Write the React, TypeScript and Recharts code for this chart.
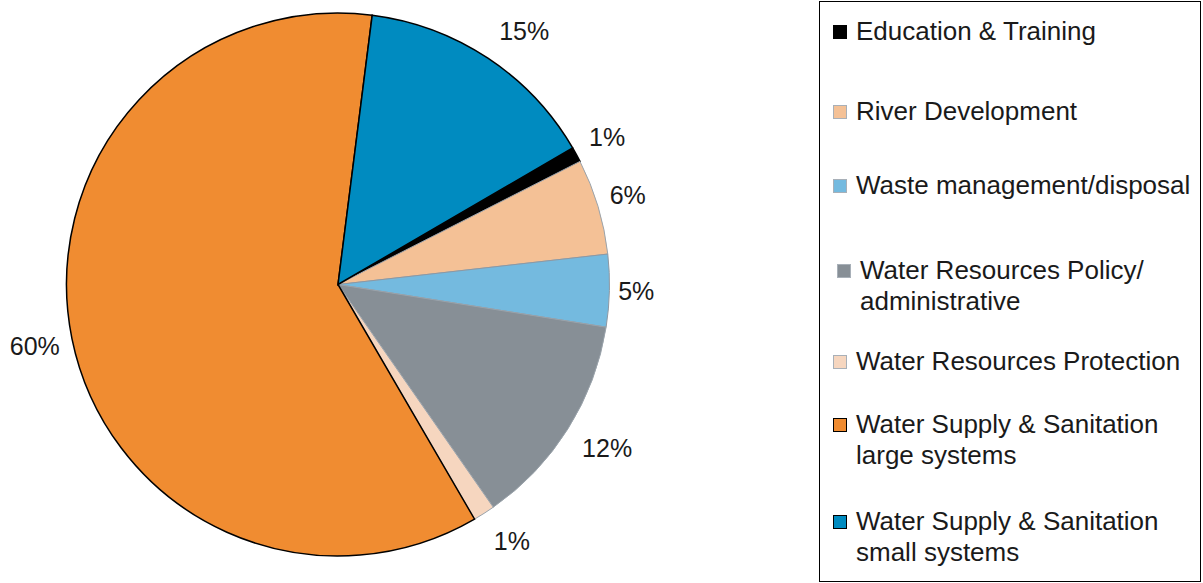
import React from 'react';
import { PieChart, Pie, Cell, Legend } from 'recharts';

const categories: string[] = [
  'Education & Training',
  'River Development',
  'Waste management/disposal',
  'Water Resources Policy/ administrative',
  'Water Resources Protection',
  'Water Supply & Sanitation large systems',
  'Water Supply & Sanitation small systems',
];
const shares: number[] = [0.9, 5.7, 4.3, 12.8, 1.3, 60.4, 14.6];
const shareLabels: string[] = ['1%', '6%', '5%', '12%', '1%', '60%', '15%'];
const legendLines: string[][] = [
  ['Education & Training'],
  ['River Development'],
  ['Waste management/disposal'],
  ['Water Resources Policy/', 'administrative'],
  ['Water Resources Protection'],
  ['Water Supply & Sanitation', 'large systems'],
  ['Water Supply & Sanitation', 'small systems'],
];

const fills = ['#000000', '#F4C196', '#74BADF', '#878F96', '#F6D6BF', '#F08C31', '#008BC0'];
const strokes = ['#000000', '#9AA3AB', '#8E98A2', '#9AA3AB', '#9AA3AB', '#000000', '#000000'];
const legendTops = [14, 94, 168, 253, 344, 407, 504];
const legendIndent = [0, 0, 0, 4, 0, 0, 0];

const data = categories.map((name, i) => ({ name, value: shares[i], label: shareLabels[i] }));

const FONT = '"Liberation Sans", Arial, sans-serif';
const RADIAN = Math.PI / 180;

const renderLabel = (props: any) => {
  const { cx, cy, midAngle, outerRadius, index } = props;
  const text = data[index].label;
  const c = Math.cos(-midAngle * RADIAN);
  const s = Math.sin(-midAngle * RADIAN);
  const halfW = text.length * 8.25;
  const r = outerRadius + 10 + 13 * Math.abs(s);
  const x = cx + r * c + Math.sign(c) * halfW;
  const y = cy + r * s + 10 * Math.max(-1, Math.min(1, s / 0.4));
  return (
    <text
      x={x}
      y={y}
      fill="#1a1a1a"
      fontSize={25}
      fontFamily={FONT}
      textAnchor="middle"
      dominantBaseline="central"
    >
      {text}
    </text>
  );
};

const renderLegend = () => (
  <div
    style={{
      position: 'relative',
      width: 382,
      height: 581,
      border: '1.5px solid #000',
      boxSizing: 'border-box',
      fontFamily: FONT,
      fontSize: 26,
      color: '#1a1a1a',
      background: '#fff',
    }}
  >
    {legendLines.map((lines, i) => (
      <div
        key={i}
        style={{ position: 'absolute', left: 13 + legendIndent[i], top: legendTops[i], lineHeight: '31px' }}
      >
        <span
          style={{
            position: 'absolute',
            left: 0,
            top: 9,
            width: 14,
            height: 14,
            background: fills[i],
            border: `1.5px solid ${i === 0 || i >= 5 ? '#000' : '#A8B0B8'}`,
            boxSizing: 'border-box',
          }}
        />
        {lines.map((t, j) => (
          <div key={j} style={{ paddingLeft: 23, whiteSpace: 'nowrap' }}>
            {t}
          </div>
        ))}
      </div>
    ))}
  </div>
);

export default function App() {
  return (
    <div style={{ position: 'absolute', left: 0, top: 0, width: 1203, height: 583, background: '#fff' }}>
      <PieChart width={1203} height={583} margin={{ top: 0, right: 0, bottom: 0, left: 0 }}>
        <Pie
          data={data}
          dataKey="value"
          nameKey="name"
          cx={338}
          cy={284.5}
          outerRadius={271.5}
          startAngle={30.2}
          endAngle={-329.8}
          label={renderLabel}
          labelLine={false}
          isAnimationActive={false}
        >
          {data.map((d, i) => (
            <Cell key={d.name} fill={fills[i]} stroke={strokes[i]} strokeWidth={i === 0 || i >= 5 ? 1.5 : 1} />
          ))}
        </Pie>
        <Legend
          content={renderLegend}
          layout="vertical"
          verticalAlign="top"
          align="right"
          wrapperStyle={{ left: 819, top: 0.5, width: 382, height: 581 }}
        />
      </PieChart>
    </div>
  );
}
